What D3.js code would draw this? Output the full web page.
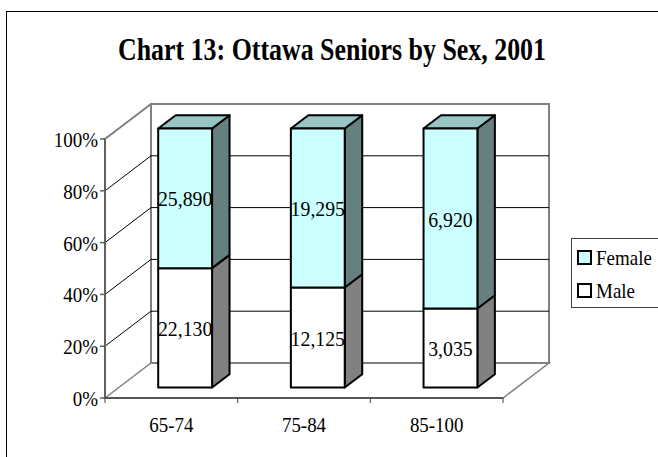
<!DOCTYPE html>
<html>
<head>
<meta charset="utf-8">
<script src="https://cdn.jsdelivr.net/npm/d3@7/dist/d3.min.js"></script>
<style>
  html, body { margin: 0; padding: 0; background: #fff; }
  svg { display: block; }
  text { font-family: "Liberation Serif", "Times New Roman", serif; fill: #000; }
</style>
</head>
<body>
<svg id="chart" width="658" height="457"></svg>
<script>
// Ottawa seniors by sex and age group, 2001
const categories = ["65-74", "75-84", "85-100"];
const male   = [22130, 12125, 3035];
const female = [25890, 19295, 6920];
const seriesNames = ["Female", "Male"];
const yTicks = [0, 0.2, 0.4, 0.6, 0.8, 1.0];
const titleText = "Chart 13: Ottawa Seniors by Sex, 2001";

const svg = d3.select("#chart");
const fmt = d3.format(",");
const pct = d3.format(".0%");

// narrow serif text: placed with a translate, slightly squeezed horizontally
function label(parent, px, py, str, size, anchor, squeeze) {
  return parent.append("text")
    .attr("transform", `translate(${px},${py}) scale(${squeeze},1)`)
    .attr("text-anchor", anchor).attr("font-size", size).text(str);
}

// 3D frame geometry: front plane plus a depth offset toward the back wall
const depthX = 46, depthY = 35;
const x = d3.scaleBand().domain(categories).range([105, 503])
  .paddingInner(0.594).paddingOuter(0.297);
const y = d3.scaleLinear().domain([0, 1]).range([398, 139]);
const z0 = 0.3, z1 = 0.68;   // bar front / back depth fractions

const P = (px, py, z) => [px + z * depthX, py - z * depthY];
const poly = pts => pts.map(p => p.join(",")).join(" ");

// outer chart frame
svg.append("rect").attr("x", 6.5).attr("y", 11.5).attr("width", 700).attr("height", 500)
  .attr("fill", "#fff").attr("stroke", "#000").attr("stroke-width", 1);

// title
svg.append("text").attr("x", 332).attr("y", 60).attr("text-anchor", "middle")
  .attr("font-size", 31).attr("font-weight", "bold")
  .attr("textLength", 428).attr("lengthAdjust", "spacingAndGlyphs")
  .text(titleText);

const x0 = x.range()[0], x1 = x.range()[1];
const g = svg.append("g");

// floor
g.append("polygon")
  .attr("points", poly([P(x0, y(0), 0), P(x0, y(0), 1), P(x1, y(0), 1), P(x1, y(0), 0)]))
  .attr("fill", "#fff").attr("stroke", "#808080").attr("stroke-width", 1.5);

// back wall
g.append("polygon")
  .attr("points", poly([P(x0, y(0), 1), P(x0, y(1), 1), P(x1, y(1), 1), P(x1, y(0), 1)]))
  .attr("fill", "#fff").attr("stroke", "#808080").attr("stroke-width", 2);

// side wall outline
g.append("polyline")
  .attr("points", poly([P(x0, y(0), 0), P(x0, y(1), 0), P(x0, y(1), 1)]))
  .attr("fill", "none").attr("stroke", "#808080").attr("stroke-width", 2);

// gridlines on side wall and back wall
yTicks.filter(t => t > 0 && t < 1).forEach(t => {
  g.append("polyline")
    .attr("points", poly([P(x0, y(t), 0), P(x0, y(t), 1), P(x1, y(t), 1)]))
    .attr("fill", "none").attr("stroke", "#000").attr("stroke-width", 1);
});

// value axis line, ticks, labels
g.append("line").attr("x1", x0).attr("x2", x0).attr("y1", y(0)).attr("y2", y(1))
  .attr("stroke", "#606060").attr("stroke-width", 2);
yTicks.forEach(t => {
  g.append("line").attr("x1", x0 - 5).attr("x2", x0).attr("y1", y(t)).attr("y2", y(t))
    .attr("stroke", "#606060").attr("stroke-width", 1.5);
  label(g, x0 - 7, y(t) + 8, pct(t), 20, "end", 0.95);
});

// category axis line, ticks, labels
g.append("line").attr("x1", x0).attr("x2", x1).attr("y1", y(0)).attr("y2", y(0))
  .attr("stroke", "#404040").attr("stroke-width", 1.5);
const step = x.step();
d3.range(categories.length + 1).forEach(i => {
  const tx = x0 + i * step;
  g.append("line").attr("x1", tx).attr("x2", tx).attr("y1", y(0)).attr("y2", y(0) + 5)
    .attr("stroke", "#404040").attr("stroke-width", 1);
});
categories.forEach(c => {
  label(g, x(c) + x.bandwidth() / 2, 432, c, 21, "middle", 0.9);
});

// stacked 100% bars
const styles = {
  Male:   { front: "#ffffff", side: "#808080", top: "#c0c0c0" },
  Female: { front: "#ccffff", side: "#668080", top: "#99c4c4" }
};
categories.forEach((c, i) => {
  const total = male[i] + female[i];
  const segs = [
    { name: "Male",   lo: 0, hi: male[i] / total, value: male[i] },
    { name: "Female", lo: male[i] / total, hi: 1, value: female[i] }
  ];
  const bx0 = x(c), bx1 = x(c) + x.bandwidth();
  segs.forEach((s, k) => {
    const st = styles[s.name];
    const yl = y(s.lo), yh = y(s.hi);
    // right side face
    g.append("polygon")
      .attr("points", poly([P(bx1, yl, z0), P(bx1, yh, z0), P(bx1, yh, z1), P(bx1, yl, z1)]))
      .attr("fill", st.side).attr("stroke", "#000").attr("stroke-width", 2)
      .attr("stroke-linejoin", "round");
    // top face on the uppermost segment
    if (k === segs.length - 1) {
      g.append("polygon")
        .attr("points", poly([P(bx0, yh, z0), P(bx0, yh, z1), P(bx1, yh, z1), P(bx1, yh, z0)]))
        .attr("fill", st.top).attr("stroke", "#000").attr("stroke-width", 2)
        .attr("stroke-linejoin", "round");
    }
    // front face
    g.append("polygon")
      .attr("points", poly([P(bx0, yl, z0), P(bx0, yh, z0), P(bx1, yh, z0), P(bx1, yl, z0)]))
      .attr("fill", st.front).attr("stroke", "#000").attr("stroke-width", 2)
      .attr("stroke-linejoin", "round");
  });
  segs.forEach(s => {
    const cx = P(bx0 + x.bandwidth() / 2, 0, z0)[0];
    const cy = P(0, (y(s.lo) + y(s.hi)) / 2, z0)[1];
    label(g, cx, cy + 8, fmt(s.value), 22, "middle", 0.9);
  });
});

// legend
const lg = svg.append("g");
lg.append("rect").attr("x", 571.5).attr("y", 238.5).attr("width", 90).attr("height", 69)
  .attr("fill", "#fff").attr("stroke", "#404040").attr("stroke-width", 1);
seriesNames.forEach((n, i) => {
  const ly = 251 + i * 33;
  lg.append("rect").attr("x", 578).attr("y", ly).attr("width", 13).attr("height", 13)
    .attr("fill", styles[n].front).attr("stroke", "#000").attr("stroke-width", 2);
  label(lg, 596, ly + 14, n, 20, "start", 0.95);
});
</script>
</body>
</html>
